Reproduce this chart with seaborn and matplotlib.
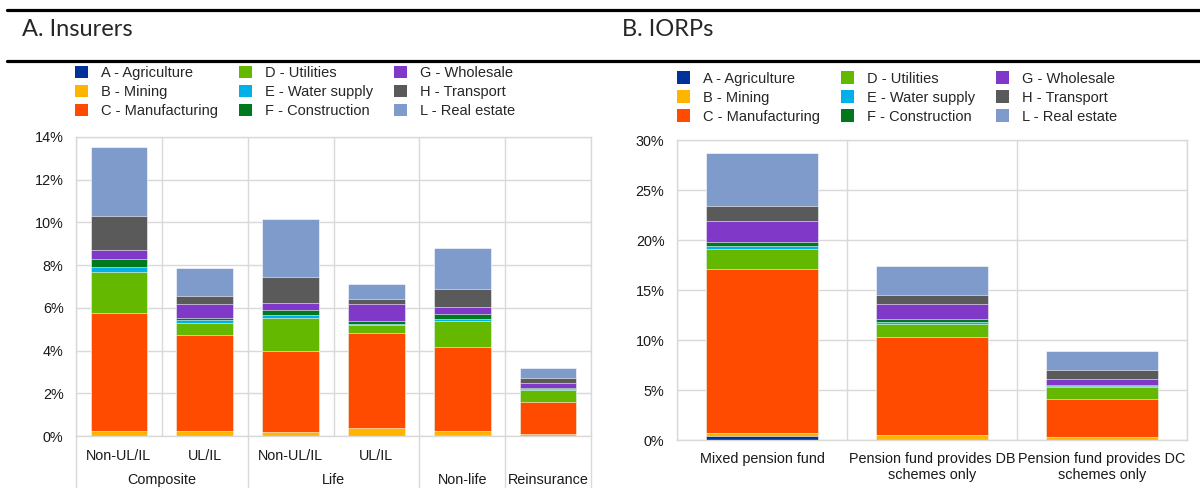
import numpy as np
import pandas as pd
import seaborn as sns
import matplotlib.pyplot as plt
from matplotlib.patches import Patch
from matplotlib.lines import Line2D
from matplotlib.transforms import blended_transform_factory

sectors = ["A - Agriculture", "B - Mining", "C - Manufacturing",
           "D - Utilities", "E - Water supply", "F - Construction",
           "G - Wholesale", "H - Transport", "L - Real estate"]
colors = ["#003399", "#FFB400", "#FF4B00", "#64B800", "#00B0E8",
          "#00781E", "#8038C8", "#5A5A5A", "#7E9BCC"]

# A. Insurers (% of investments)
ins_keys = ["comp_non", "comp_ul", "life_non", "life_ul", "nonlife", "reins"]
ins_sub = ["Non-UL/IL", "UL/IL", "Non-UL/IL", "UL/IL", "", ""]
ins_groups = ["Composite", "Life", "Non-life", "Reinsurance"]
ins_group_pos = [0.5, 2.5, 4, 5]
ins_values = {
    "A - Agriculture":   [0.02, 0.02, 0.02, 0.02, 0.05, 0.01],
    "B - Mining":        [0.20, 0.23, 0.17, 0.37, 0.18, 0.08],
    "C - Manufacturing": [5.53, 4.48, 3.81, 4.42, 3.93, 1.49],
    "D - Utilities":     [1.95, 0.58, 1.53, 0.39, 1.22, 0.56],
    "E - Water supply":  [0.19, 0.10, 0.14, 0.06, 0.12, 0.06],
    "F - Construction":  [0.39, 0.11, 0.21, 0.11, 0.23, 0.05],
    "G - Wholesale":     [0.41, 0.65, 0.35, 0.79, 0.30, 0.22],
    "H - Transport":     [1.62, 0.38, 1.22, 0.25, 0.86, 0.26],
    "L - Real estate":   [3.23, 1.31, 2.69, 0.69, 1.92, 0.46],
}

# B. IORPs
iorp_keys = ["Mixed pension fund",
             "Pension fund provides DB\nschemes only",
             "Pension fund provides DC\nschemes only"]
iorp_values = {
    "A - Agriculture":   [0.40, 0.05, 0.03],
    "B - Mining":        [0.33, 0.45, 0.27],
    "C - Manufacturing": [16.34, 9.77, 3.83],
    "D - Utilities":     [2.03, 1.36, 1.14],
    "E - Water supply":  [0.30, 0.20, 0.13],
    "F - Construction":  [0.43, 0.24, 0.07],
    "G - Wholesale":     [2.04, 1.53, 0.60],
    "H - Transport":     [1.53, 0.90, 0.90],
    "L - Real estate":   [5.30, 2.87, 1.96],
}

grid_c = "#D9D9D9"
sns.set_theme(style="white")
plt.rcParams["font.family"] = ["Liberation Sans", "DejaVu Sans"]


def stacked(ax, keys, values):
    df = pd.DataFrame(values, index=keys)
    cum = df.cumsum(axis=1)
    # draw from the top layer down so each layer covers the one above
    for i in reversed(range(len(sectors))):
        sns.barplot(x=list(keys), y=cum[sectors[i]].values, color=colors[i],
                    saturation=1, width=0.66, errorbar=None, ax=ax,
                    edgecolor="white", linewidth=0.4, order=list(keys))
    n = len(keys)
    ax.set_xlim(-0.5, n - 0.5)
    ax.set_xticks(np.arange(-0.5, n, 1), minor=True)
    ax.grid(True, axis="y", color=grid_c, lw=1)
    ax.grid(True, axis="x", which="minor", color=grid_c, lw=1)
    ax.set_axisbelow(True)
    for s in ax.spines.values():
        s.set_color(grid_c)
        s.set_linewidth(1)
    ax.tick_params(which="both", length=0, labelsize=10.4, colors="#1a1a1a")
    ax.set_xlabel("")
    ax.set_ylabel("")


fig = plt.figure(figsize=(12, 4.88), dpi=100)

ax1 = fig.add_axes([76 / 1200, 1 - 436 / 488, 515 / 1200, 299 / 488])
stacked(ax1, ins_keys, ins_values)
ax1.set_ylim(0, 14)
ax1.set_yticks(np.arange(0, 15, 2))
ax1.set_yticklabels([f"{v}%" for v in range(0, 15, 2)])
ax1.set_xticks(range(len(ins_keys)))
ax1.set_xticklabels(ins_sub)
ax1.tick_params(axis="x", pad=9)
ax1.tick_params(axis="y", pad=9)
tr = blended_transform_factory(ax1.transData, ax1.transAxes)
for name, pos in zip(ins_groups, ins_group_pos):
    ax1.text(pos, -0.148, name, transform=tr, ha="center", va="center",
             fontsize=10.4, color="#1a1a1a")
for xb in [-0.5, 1.5, 3.5, 4.5, 5.5]:
    ax1.add_line(Line2D([xb, xb], [0, -0.18], transform=tr, color=grid_c,
                        lw=1, clip_on=False))

ax2 = fig.add_axes([677 / 1200, 1 - 440 / 488, 510 / 1200, 300 / 488])
stacked(ax2, iorp_keys, iorp_values)
ax2.set_ylim(0, 30)
ax2.set_yticks(np.arange(0, 31, 5))
ax2.set_yticklabels([f"{v}%" for v in range(0, 31, 5)])
ax2.set_xticks(range(len(iorp_keys)))
ax2.set_xticklabels(iorp_keys, linespacing=1.1)
ax2.tick_params(axis="x", pad=9)
ax2.tick_params(axis="y", pad=9)

# headers and rules
for y in [9.5, 60.5]:
    fig.add_artist(Line2D([7 / 1200, 1], [1 - y / 488] * 2, color="black",
                          lw=2.3, transform=fig.transFigure))
fig.text(22 / 1200, 1 - 30 / 488, "A. Insurers", fontsize=17,
         family="Lato", va="center", ha="left")
fig.text(622 / 1200, 1 - 30 / 488, "B. IORPs", fontsize=17,
         family="Lato", va="center", ha="left")

handles = [Patch(facecolor=c, edgecolor="none", label=s)
           for c, s in zip(colors, sectors)]
leg_kw = dict(ncol=3, frameon=False, fontsize=10.5, handlelength=0.92,
              handleheight=0.92, handletextpad=0.85, columnspacing=1.45,
              labelspacing=0.33, borderpad=0, borderaxespad=0,
              loc="upper left")
fig.legend(handles=handles, bbox_to_anchor=(75 / 1200, 1 - 66 / 488), **leg_kw)
fig.legend(handles=handles, bbox_to_anchor=(677 / 1200, 1 - 71.5 / 488), **leg_kw)

fig.savefig("out.png", dpi=100)
